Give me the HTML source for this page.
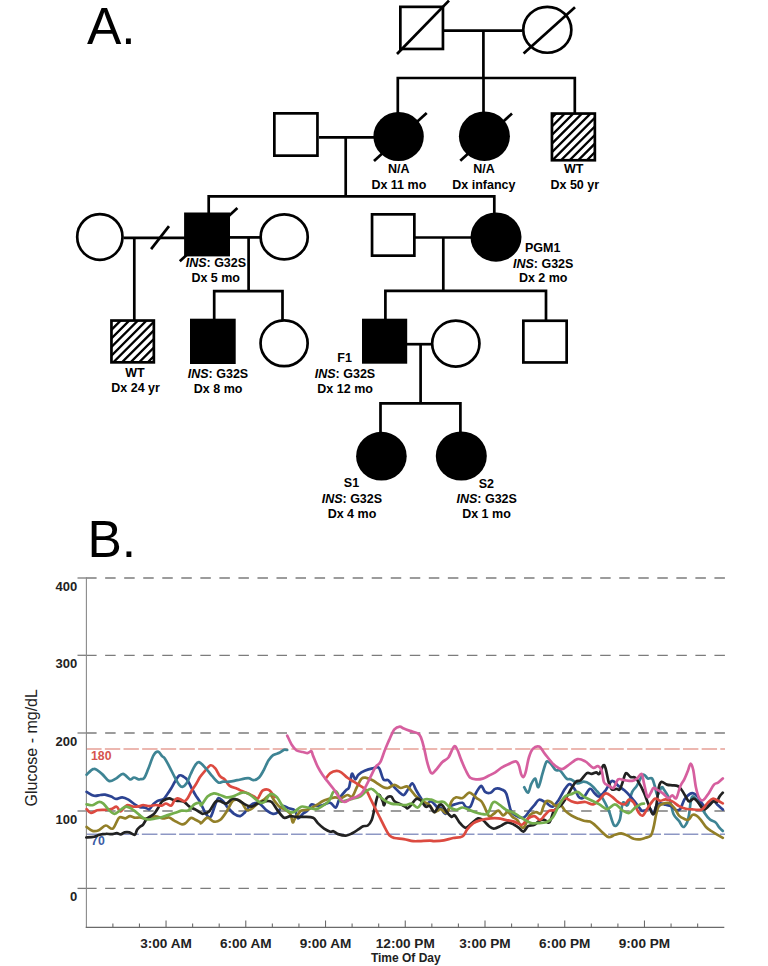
<!DOCTYPE html>
<html><head><meta charset="utf-8"><title>Figure</title>
<style>
html,body{margin:0;padding:0;background:#fff;}
body{width:768px;height:966px;overflow:hidden;}
svg{display:block;font-family:"Liberation Sans",sans-serif;}
</style></head>
<body>
<svg width="768" height="966" viewBox="0 0 768 966">
<rect width="768" height="966" fill="#fff"/>
<line x1="444" y1="30.6" x2="522" y2="30.6" stroke="#000" stroke-width="2.7"/>
<line x1="483.4" y1="30.6" x2="483.4" y2="78" stroke="#000" stroke-width="2.7"/>
<path d="M397.8 112L397.8 78L574.8 78L574.8 112" stroke="#000" stroke-width="2.7" fill="none" stroke-linejoin="miter" stroke-linecap="square"/>
<line x1="483.5" y1="78" x2="483.5" y2="112" stroke="#000" stroke-width="2.7"/>
<line x1="319" y1="137.4" x2="374" y2="137.4" stroke="#000" stroke-width="2.7"/>
<line x1="345.7" y1="137.4" x2="345.7" y2="196.3" stroke="#000" stroke-width="2.7"/>
<path d="M208.7 213L208.7 196.3L494.3 196.3L494.3 213" stroke="#000" stroke-width="2.7" fill="none" stroke-linejoin="miter" stroke-linecap="square"/>
<line x1="123.5" y1="237.8" x2="185" y2="237.8" stroke="#000" stroke-width="2.7"/>
<line x1="151.1" y1="249.2" x2="169" y2="226.1" stroke="#000" stroke-width="2.7"/>
<line x1="134.3" y1="237.8" x2="134.3" y2="320" stroke="#000" stroke-width="2.7"/>
<line x1="229.5" y1="237.4" x2="260" y2="237.4" stroke="#000" stroke-width="2.7"/>
<line x1="248.6" y1="237.4" x2="248.6" y2="291.2" stroke="#000" stroke-width="2.7"/>
<path d="M214.2 319L214.2 291.2L282.5 291.2L282.5 320" stroke="#000" stroke-width="2.7" fill="none" stroke-linejoin="miter" stroke-linecap="square"/>
<line x1="415" y1="237.5" x2="471" y2="237.5" stroke="#000" stroke-width="2.7"/>
<line x1="443.3" y1="237.5" x2="443.3" y2="290.8" stroke="#000" stroke-width="2.7"/>
<path d="M385.4 319L385.4 290.8L546 290.8L546 320" stroke="#000" stroke-width="2.7" fill="none" stroke-linejoin="miter" stroke-linecap="square"/>
<line x1="407" y1="344.2" x2="431.5" y2="344.2" stroke="#000" stroke-width="2.7"/>
<line x1="420.6" y1="344.2" x2="420.6" y2="403.4" stroke="#000" stroke-width="2.7"/>
<path d="M380.5 432L380.5 403.4L460.4 403.4L460.4 432" stroke="#000" stroke-width="2.7" fill="none" stroke-linejoin="miter" stroke-linecap="square"/>
<rect x="400.35" y="6.85" width="42.60" height="42.10" fill="#fff" stroke="#000" stroke-width="2.7"/>
<line x1="397" y1="54" x2="449" y2="0.6" stroke="#000" stroke-width="2.7"/>
<ellipse cx="547.3" cy="29.8" rx="24.05" ry="22.95" fill="#fff" stroke="#000" stroke-width="2.7"/>
<line x1="523.6" y1="53.4" x2="575" y2="7.2" stroke="#000" stroke-width="2.7"/>
<rect x="274.35" y="113.35" width="43.10" height="42.30" fill="#fff" stroke="#000" stroke-width="2.7"/>
<line x1="374" y1="161" x2="426.7" y2="113" stroke="#000" stroke-width="2.7"/>
<ellipse cx="398.6" cy="136.5" rx="25.2" ry="24.5" fill="#000"/>
<line x1="460.3" y1="160.7" x2="512" y2="113.6" stroke="#000" stroke-width="2.7"/>
<ellipse cx="484.4" cy="136.2" rx="25.5" ry="24.8" fill="#000"/>
<rect x="551.95" y="113.55" width="42.90" height="46.70" fill="#fff" stroke="#000" stroke-width="2.7"/>
<clipPath id="c29"><rect x="551.95" y="113.55" width="42.90" height="46.70"/></clipPath>
<path clip-path="url(#c29)" d="M485.90 166.60L545.30 107.20M494.50 166.60L553.90 107.20M503.10 166.60L562.50 107.20M511.70 166.60L571.10 107.20M520.30 166.60L579.70 107.20M528.90 166.60L588.30 107.20M537.50 166.60L596.90 107.20M546.10 166.60L605.50 107.20M554.70 166.60L614.10 107.20M563.30 166.60L622.70 107.20M571.90 166.60L631.30 107.20M580.50 166.60L639.90 107.20M589.10 166.60L648.50 107.20" stroke="#000" stroke-width="2.3" fill="none"/>
<ellipse cx="99.85" cy="236.95" rx="22.65" ry="22.85" fill="#fff" stroke="#000" stroke-width="2.7"/>
<line x1="179.8" y1="261.3" x2="237.4" y2="208" stroke="#000" stroke-width="2.7"/>
<rect x="184.10" y="212.50" width="45.90" height="43.90" fill="#000"/>
<ellipse cx="284.2" cy="236.9" rx="23.55" ry="22.55" fill="#fff" stroke="#000" stroke-width="2.7"/>
<rect x="372.05" y="214.35" width="42.30" height="41.30" fill="#fff" stroke="#000" stroke-width="2.7"/>
<ellipse cx="496" cy="237.1" rx="25.5" ry="24.6" fill="#000"/>
<rect x="111.45" y="320.55" width="42.40" height="41.80" fill="#fff" stroke="#000" stroke-width="2.7"/>
<clipPath id="c38"><rect x="111.45" y="320.55" width="42.40" height="41.80"/></clipPath>
<path clip-path="url(#c38)" d="M55.35 368.70L109.85 314.20M63.95 368.70L118.45 314.20M72.55 368.70L127.05 314.20M81.15 368.70L135.65 314.20M89.75 368.70L144.25 314.20M98.35 368.70L152.85 314.20M106.95 368.70L161.45 314.20M115.55 368.70L170.05 314.20M124.15 368.70L178.65 314.20M132.75 368.70L187.25 314.20M141.35 368.70L195.85 314.20M149.95 368.70L204.45 314.20" stroke="#000" stroke-width="2.3" fill="none"/>
<rect x="190.00" y="318.70" width="45.70" height="45.30" fill="#000"/>
<ellipse cx="284.1" cy="343.3" rx="23.55" ry="22.85" fill="#fff" stroke="#000" stroke-width="2.7"/>
<rect x="362.00" y="318.70" width="45.20" height="45.00" fill="#000"/>
<ellipse cx="455.8" cy="343.6" rx="23.65" ry="22.95" fill="#fff" stroke="#000" stroke-width="2.7"/>
<rect x="523.35" y="320.75" width="43.30" height="41.70" fill="#fff" stroke="#000" stroke-width="2.7"/>
<ellipse cx="381.4" cy="456.2" rx="25.3" ry="24.4" fill="#000"/>
<ellipse cx="461.3" cy="456.0" rx="25.5" ry="24.6" fill="#000"/>
<text x="398.85" y="173.3" font-size="12.5" font-weight="bold" text-anchor="middle" fill="#000" >N/A</text>
<text x="398.85" y="188.8" font-size="12.5" font-weight="bold" text-anchor="middle" fill="#000" >Dx 11 mo</text>
<text x="484" y="172.8" font-size="12.5" font-weight="bold" text-anchor="middle" fill="#000" >N/A</text>
<text x="483.9" y="188.7" font-size="12.5" font-weight="bold" text-anchor="middle" fill="#000" >Dx infancy</text>
<text x="573.6" y="173.0" font-size="12.5" font-weight="bold" text-anchor="middle" fill="#000" >WT</text>
<text x="574.8" y="188.9" font-size="12.5" font-weight="bold" text-anchor="middle" fill="#000" >Dx 50 yr</text>
<text x="215.9" y="266.6" font-size="12.5" font-weight="bold" text-anchor="middle" fill="#000" ><tspan font-style="italic">INS</tspan>: G32S</text>
<text x="215.7" y="282.2" font-size="12.5" font-weight="bold" text-anchor="middle" fill="#000" >Dx 5 mo</text>
<text x="542.7" y="251.5" font-size="12.5" font-weight="bold" text-anchor="middle" fill="#000" >PGM1</text>
<text x="543.2" y="267.5" font-size="12.5" font-weight="bold" text-anchor="middle" fill="#000" ><tspan font-style="italic">INS</tspan>: G32S</text>
<text x="543.2" y="282.2" font-size="12.5" font-weight="bold" text-anchor="middle" fill="#000" >Dx 2 mo</text>
<text x="135.0" y="376.5" font-size="12.5" font-weight="bold" text-anchor="middle" fill="#000" >WT</text>
<text x="135.6" y="392.3" font-size="12.5" font-weight="bold" text-anchor="middle" fill="#000" >Dx 24 yr</text>
<text x="218" y="378" font-size="12.5" font-weight="bold" text-anchor="middle" fill="#000" ><tspan font-style="italic">INS</tspan>: G32S</text>
<text x="218.1" y="392.9" font-size="12.5" font-weight="bold" text-anchor="middle" fill="#000" >Dx 8 mo</text>
<text x="344.65" y="361.9" font-size="12.5" font-weight="bold" text-anchor="middle" fill="#000" >F1</text>
<text x="345" y="378" font-size="12.5" font-weight="bold" text-anchor="middle" fill="#000" ><tspan font-style="italic">INS</tspan>: G32S</text>
<text x="345.1" y="392.9" font-size="12.5" font-weight="bold" text-anchor="middle" fill="#000" >Dx 12 mo</text>
<text x="351.5" y="487.1" font-size="12.5" font-weight="bold" text-anchor="middle" fill="#000" >S1</text>
<text x="351.9" y="502.8" font-size="12.5" font-weight="bold" text-anchor="middle" fill="#000" ><tspan font-style="italic">INS</tspan>: G32S</text>
<text x="352" y="518.3" font-size="12.5" font-weight="bold" text-anchor="middle" fill="#000" >Dx 4 mo</text>
<text x="486.3" y="487.7" font-size="12.5" font-weight="bold" text-anchor="middle" fill="#000" >S2</text>
<text x="486.7" y="502.5" font-size="12.5" font-weight="bold" text-anchor="middle" fill="#000" ><tspan font-style="italic">INS</tspan>: G32S</text>
<text x="486.5" y="518.1" font-size="12.5" font-weight="bold" text-anchor="middle" fill="#000" >Dx 1 mo</text>
<text x="86.9" y="44.1" font-size="51.5" font-weight="normal" text-anchor="start" fill="#000" >A.</text>
<text x="87.5" y="557.1" font-size="51.5" font-weight="normal" text-anchor="start" fill="#000" >B.</text>
<line x1="77.5" y1="578.0" x2="86.5" y2="578.0" stroke="#7c7c7c" stroke-width="1.3"/>
<line x1="86.1" y1="578.0" x2="725" y2="578.0" stroke="#7c7c7c" stroke-width="1.3" stroke-dasharray="10.5 8.54"/>
<line x1="77.5" y1="655.3" x2="86.5" y2="655.3" stroke="#7c7c7c" stroke-width="1.3"/>
<line x1="86.1" y1="655.3" x2="725" y2="655.3" stroke="#7c7c7c" stroke-width="1.3" stroke-dasharray="10.5 8.54"/>
<line x1="77.5" y1="733.0" x2="86.5" y2="733.0" stroke="#7c7c7c" stroke-width="1.3"/>
<line x1="86.1" y1="733.0" x2="725" y2="733.0" stroke="#7c7c7c" stroke-width="1.3" stroke-dasharray="10.5 8.54"/>
<line x1="77.5" y1="811.0" x2="86.5" y2="811.0" stroke="#7c7c7c" stroke-width="1.3"/>
<line x1="86.1" y1="811.0" x2="725" y2="811.0" stroke="#7c7c7c" stroke-width="1.3" stroke-dasharray="10.5 8.54"/>
<line x1="77.5" y1="888.4" x2="86.5" y2="888.4" stroke="#7c7c7c" stroke-width="1.3"/>
<line x1="86.1" y1="888.4" x2="725" y2="888.4" stroke="#7c7c7c" stroke-width="1.3" stroke-dasharray="10.5 8.54"/>
<line x1="86.2" y1="749" x2="725" y2="749" stroke="#e6a097" stroke-width="1.6" stroke-dasharray="15.4 3.25"/>
<line x1="86.2" y1="834.3" x2="725" y2="834.3" stroke="#8d97c4" stroke-width="1.6" stroke-dasharray="15.6 3.05" stroke-dashoffset="0.3"/>
<line x1="86.4" y1="577.6" x2="86.4" y2="927.6" stroke="#8a8a8a" stroke-width="1.1"/>
<line x1="85.7" y1="927.4" x2="724.3" y2="927.4" stroke="#6a6a6a" stroke-width="1.3"/>
<line x1="112.88" y1="923.5" x2="112.88" y2="927.4" stroke="#6a6a6a" stroke-width="1.1"/>
<line x1="139.46" y1="923.5" x2="139.46" y2="927.4" stroke="#6a6a6a" stroke-width="1.1"/>
<line x1="166.04" y1="920.5" x2="166.04" y2="927.4" stroke="#6a6a6a" stroke-width="1.1"/>
<line x1="192.62" y1="923.5" x2="192.62" y2="927.4" stroke="#6a6a6a" stroke-width="1.1"/>
<line x1="219.20" y1="923.5" x2="219.20" y2="927.4" stroke="#6a6a6a" stroke-width="1.1"/>
<line x1="245.78" y1="920.5" x2="245.78" y2="927.4" stroke="#6a6a6a" stroke-width="1.1"/>
<line x1="272.36" y1="923.5" x2="272.36" y2="927.4" stroke="#6a6a6a" stroke-width="1.1"/>
<line x1="298.94" y1="923.5" x2="298.94" y2="927.4" stroke="#6a6a6a" stroke-width="1.1"/>
<line x1="325.52" y1="920.5" x2="325.52" y2="927.4" stroke="#6a6a6a" stroke-width="1.1"/>
<line x1="352.10" y1="923.5" x2="352.10" y2="927.4" stroke="#6a6a6a" stroke-width="1.1"/>
<line x1="378.68" y1="923.5" x2="378.68" y2="927.4" stroke="#6a6a6a" stroke-width="1.1"/>
<line x1="405.26" y1="920.5" x2="405.26" y2="927.4" stroke="#6a6a6a" stroke-width="1.1"/>
<line x1="431.84" y1="923.5" x2="431.84" y2="927.4" stroke="#6a6a6a" stroke-width="1.1"/>
<line x1="458.42" y1="923.5" x2="458.42" y2="927.4" stroke="#6a6a6a" stroke-width="1.1"/>
<line x1="485.00" y1="920.5" x2="485.00" y2="927.4" stroke="#6a6a6a" stroke-width="1.1"/>
<line x1="511.58" y1="923.5" x2="511.58" y2="927.4" stroke="#6a6a6a" stroke-width="1.1"/>
<line x1="538.16" y1="923.5" x2="538.16" y2="927.4" stroke="#6a6a6a" stroke-width="1.1"/>
<line x1="564.74" y1="920.5" x2="564.74" y2="927.4" stroke="#6a6a6a" stroke-width="1.1"/>
<line x1="591.32" y1="923.5" x2="591.32" y2="927.4" stroke="#6a6a6a" stroke-width="1.1"/>
<line x1="617.90" y1="923.5" x2="617.90" y2="927.4" stroke="#6a6a6a" stroke-width="1.1"/>
<line x1="644.48" y1="920.5" x2="644.48" y2="927.4" stroke="#6a6a6a" stroke-width="1.1"/>
<line x1="671.06" y1="923.5" x2="671.06" y2="927.4" stroke="#6a6a6a" stroke-width="1.1"/>
<line x1="697.64" y1="923.5" x2="697.64" y2="927.4" stroke="#6a6a6a" stroke-width="1.1"/>
<text x="77.3" y="590.5" font-size="13" font-weight="bold" text-anchor="end" fill="#222">400</text>
<text x="77.3" y="667.9" font-size="13" font-weight="bold" text-anchor="end" fill="#222">300</text>
<text x="77.3" y="745.5" font-size="13" font-weight="bold" text-anchor="end" fill="#222">200</text>
<text x="77.3" y="823.5" font-size="13" font-weight="bold" text-anchor="end" fill="#222">100</text>
<text x="77.3" y="900.8" font-size="13" font-weight="bold" text-anchor="end" fill="#222">0</text>
<text x="91" y="760.0" font-size="12.3" font-weight="bold" fill="#d6554e">180</text>
<text x="91.1" y="845.0" font-size="12.3" font-weight="bold" fill="#3b5ca5">70</text>
<text x="166.04" y="947.5" font-size="13.6" font-weight="bold" text-anchor="middle" fill="#222">3:00 AM</text>
<text x="245.78" y="947.5" font-size="13.6" font-weight="bold" text-anchor="middle" fill="#222">6:00 AM</text>
<text x="325.52" y="947.5" font-size="13.6" font-weight="bold" text-anchor="middle" fill="#222">9:00 AM</text>
<text x="405.26" y="947.5" font-size="13.6" font-weight="bold" text-anchor="middle" fill="#222">12:00 PM</text>
<text x="485.00" y="947.5" font-size="13.6" font-weight="bold" text-anchor="middle" fill="#222">3:00 PM</text>
<text x="564.74" y="947.5" font-size="13.6" font-weight="bold" text-anchor="middle" fill="#222">6:00 PM</text>
<text x="644.48" y="947.5" font-size="13.6" font-weight="bold" text-anchor="middle" fill="#222">9:00 PM</text>
<text x="405.8" y="961.8" font-size="12" font-weight="bold" text-anchor="middle" fill="#222">Time Of Day</text>
<text transform="translate(37.3 747.8) rotate(-90)" font-size="16" text-anchor="middle" fill="#222">Glucose - mg/dL</text>
<path d="M524.2 787.2C524.9 788.1 526.9 793.2 528.1 792.7C529.3 792.2 530.1 786.5 531.2 784.1C532.4 781.8 534.0 778.1 535.2 778.6C536.4 779.1 537.1 787.9 538.3 787.2C539.5 786.6 541.1 778.4 542.2 774.7C543.3 771.1 544.2 767.5 545.0 765.3C545.8 763.1 546.0 761.7 547.0 761.4C548.0 761.1 549.5 762.3 550.9 763.8C552.3 765.2 554.0 768.8 555.6 770.0C557.2 771.2 558.5 769.4 560.3 770.8C562.1 772.2 564.8 777.2 566.6 778.6C568.4 780.0 569.4 778.6 571.2 779.4C573.1 780.2 575.4 782.9 577.5 783.3C579.6 783.7 581.7 781.6 583.8 781.7C585.8 781.8 587.9 782.7 590.0 784.1C592.1 785.5 594.2 788.0 596.2 790.3C598.3 792.6 600.4 794.7 602.5 798.1C604.6 801.5 606.8 806.0 608.8 810.6C610.7 815.2 612.4 823.9 614.2 825.5C616.0 827.1 618.3 823.8 619.7 820.0C621.1 816.2 621.5 805.3 622.8 802.8C624.1 800.3 625.9 807.0 627.5 805.2C629.1 803.4 630.6 795.2 632.2 791.9C633.8 788.6 635.1 788.5 636.9 785.6C638.7 782.7 641.3 775.9 643.1 774.7C644.9 773.5 646.3 777.9 647.8 778.5C649.3 779.1 650.9 777.2 652.1 778.5C653.3 779.8 653.9 783.2 654.8 786.0C655.7 788.8 656.4 795.2 657.5 795.4C658.6 795.6 660.4 788.2 661.5 787.3C662.6 786.4 662.9 788.0 664.2 790.0C665.6 792.0 668.0 795.4 669.6 799.4C671.2 803.4 672.0 810.6 673.6 814.2C675.2 817.8 677.4 818.8 679.0 820.9C680.6 823.0 681.8 826.8 683.1 827.0C684.5 827.2 686.1 824.4 687.1 822.3C688.1 820.2 688.4 818.0 689.1 814.2C689.8 810.4 690.3 802.3 691.1 799.4C691.9 796.5 692.4 796.0 693.8 796.7C695.1 797.4 697.4 800.7 699.2 803.4C701.0 806.1 702.8 810.2 704.6 812.9C706.4 815.6 708.2 818.0 710.0 819.6C711.8 821.2 713.8 820.9 715.4 822.3C717.0 823.6 718.2 826.2 719.4 827.7C720.6 829.2 722.2 830.5 722.8 831.0" stroke="#3e8494" stroke-width="2.7" fill="none" stroke-linejoin="round" stroke-linecap="round"/>
<path d="M86.6 791.9C87.8 792.5 91.8 795.3 94.1 795.8C96.4 796.3 98.5 795.2 100.3 795.0C102.1 794.8 103.2 794.4 105.0 794.7C106.8 795.0 109.4 795.9 111.2 796.6C113.1 797.3 114.1 798.8 115.9 798.9C117.7 799.0 120.1 797.2 122.2 797.3C124.3 797.4 126.3 798.5 128.4 799.7C130.5 800.9 132.8 803.2 134.7 804.4C136.6 805.6 138.2 806.6 140.0 807.1C141.8 807.6 143.6 807.2 145.2 807.6C146.8 808.0 147.9 809.8 149.3 809.2C150.7 808.6 152.1 805.4 153.5 804.0C154.9 802.6 155.9 801.8 157.6 800.9C159.3 800.0 162.2 799.8 163.8 798.8C165.4 797.8 165.7 796.4 166.9 794.7C168.1 793.0 169.7 790.8 171.1 788.5C172.5 786.2 173.8 783.4 175.2 781.2C176.6 779.0 177.9 776.3 179.3 775.5C180.7 774.7 182.1 775.8 183.5 776.6C184.9 777.4 186.2 778.2 187.6 780.2C189.0 782.2 190.4 785.9 191.8 788.5C193.2 791.1 194.5 793.5 195.9 795.7C197.3 797.9 198.3 798.9 200.0 801.9C201.7 804.9 204.1 811.2 205.9 813.8C207.7 816.2 209.0 818.5 210.6 816.9C212.2 815.3 214.0 807.5 215.3 804.4C216.6 801.3 217.1 798.6 218.4 798.1C219.7 797.6 221.5 799.7 223.1 801.2C224.7 802.8 226.0 805.4 227.8 807.5C229.6 809.6 232.0 812.3 234.1 813.8C236.2 815.2 238.5 816.4 240.3 816.1C242.1 815.8 243.4 813.9 245.0 812.2C246.6 810.5 247.9 807.5 249.7 805.9C251.5 804.3 254.1 803.0 255.9 802.8C257.7 802.5 258.8 803.1 260.6 804.4C262.4 805.7 264.8 809.0 266.9 810.6C269.0 812.2 271.3 813.5 273.1 813.8C274.9 814.0 276.2 813.5 277.8 812.2C279.4 810.9 280.7 806.5 282.5 805.9C284.3 805.2 286.7 807.5 288.8 808.3C290.8 809.1 293.4 808.9 295.0 810.6C296.6 812.3 296.8 817.9 298.1 818.4C299.4 818.9 301.2 815.0 302.8 813.8C304.4 812.5 306.1 812.2 307.5 810.6C308.9 809.0 309.9 805.2 311.4 804.4C312.9 803.6 314.4 805.8 316.2 805.9C318.1 806.0 320.2 805.7 322.5 805.2C324.8 804.7 328.1 802.4 330.3 802.8C332.5 803.2 334.2 808.3 335.8 807.5C337.4 806.7 338.0 801.0 339.7 798.1C341.4 795.2 344.3 792.1 345.9 790.3C347.5 788.5 348.1 789.9 349.1 787.2C350.1 784.5 350.9 775.2 351.9 773.9C352.9 772.6 354.2 779.3 355.3 779.4C356.4 779.5 356.8 776.1 358.4 774.7C360.0 773.3 362.3 771.8 364.7 770.8C367.1 769.8 370.2 768.9 372.5 768.4C374.8 767.9 376.9 765.9 378.8 767.7C380.6 769.5 381.8 777.3 383.4 779.4C385.0 781.5 386.5 779.2 388.1 780.2C389.7 781.2 391.0 783.7 392.8 785.6C394.6 787.5 397.2 790.3 399.0 791.9C400.8 793.5 402.2 795.5 403.8 795.0C405.3 794.5 407.0 790.7 408.4 788.8C409.8 786.8 411.0 783.0 412.3 783.3C413.6 783.6 414.8 787.8 416.2 790.3C417.7 792.8 419.3 795.8 420.9 798.1C422.5 800.5 423.9 803.9 425.6 804.4C427.3 804.9 429.3 800.7 431.2 801.2C433.2 801.8 435.9 806.5 437.5 807.5C439.1 808.5 439.3 806.5 440.6 807.5C441.9 808.5 443.7 813.9 445.3 813.8C446.9 813.6 448.4 808.3 450.0 806.7C451.6 805.1 452.6 805.0 454.7 804.4C456.8 803.8 460.7 802.4 462.5 802.8C464.3 803.2 464.3 806.1 465.6 806.7C466.9 807.4 468.7 808.7 470.3 806.7C471.9 804.8 473.4 798.2 475.0 795.0C476.6 791.8 478.5 788.6 479.7 787.2C480.9 785.8 481.1 785.6 482.0 786.4C482.9 787.2 483.8 790.8 485.2 791.9C486.6 793.0 488.9 793.2 490.6 792.7C492.3 792.2 493.5 789.3 495.3 788.8C497.1 788.2 499.8 788.7 501.6 789.5C503.4 790.3 504.7 789.9 506.2 793.4C507.8 796.9 509.3 807.0 510.9 810.6C512.5 814.2 513.5 814.1 515.6 815.3C517.7 816.5 521.0 818.5 523.4 817.7C525.8 816.9 527.9 812.7 529.7 810.6C531.5 808.5 532.8 807.0 534.4 805.2C536.0 803.4 537.1 800.1 539.1 799.7C541.1 799.3 544.0 801.6 546.2 802.8C548.5 804.0 550.4 807.2 552.5 806.7C554.6 806.2 556.7 802.7 558.8 799.7C560.8 796.7 563.2 791.4 565.0 788.8C566.8 786.1 568.1 784.1 569.7 784.1C571.3 784.1 572.8 786.5 574.4 788.8C576.0 791.0 577.5 795.9 579.1 797.3C580.7 798.7 581.9 798.7 583.8 797.3C585.6 795.9 588.2 789.4 590.0 788.8C591.8 788.1 593.1 792.1 594.7 793.4C596.3 794.7 597.6 797.1 599.4 796.6C601.2 796.1 603.5 792.9 605.6 790.3C607.7 787.7 609.8 781.7 611.9 780.9C614.0 780.1 616.0 784.0 618.1 785.6C620.2 787.2 622.3 788.5 624.4 790.3C626.5 792.1 628.5 794.2 630.6 796.6C632.7 799.0 635.1 802.1 636.9 804.4C638.7 806.7 640.2 809.6 641.6 810.6C643.0 811.6 644.0 810.5 645.4 810.2C646.8 809.9 648.8 808.1 650.1 808.8C651.5 809.5 652.5 814.7 653.5 814.2C654.5 813.8 655.1 807.9 656.2 806.1C657.3 804.3 658.6 803.6 660.2 803.4C661.8 803.2 663.8 804.3 665.6 804.8C667.4 805.2 669.2 805.2 671.0 806.1C672.8 807.0 674.7 809.8 676.3 810.2C677.9 810.7 679.0 810.6 680.4 808.8C681.8 807.0 682.8 801.9 684.4 799.4C686.0 796.9 688.2 795.0 689.8 794.0C691.4 793.0 692.4 792.9 693.8 793.4C695.1 793.9 696.5 795.0 697.9 796.7C699.2 798.4 700.5 801.6 701.9 803.4C703.2 805.2 704.6 807.5 706.0 807.5C707.4 807.5 708.7 804.5 710.0 803.4C711.3 802.3 712.8 800.6 714.0 800.8C715.2 801.0 715.9 803.3 717.4 804.8C718.9 806.2 721.9 808.7 722.8 809.5" stroke="#2c4392" stroke-width="2.7" fill="none" stroke-linejoin="round" stroke-linecap="round"/>
<path d="M86.6 827.0C87.6 827.6 90.5 830.4 92.5 830.9C94.5 831.4 96.5 831.1 98.8 830.2C101.0 829.3 103.5 825.8 105.8 825.5C108.1 825.2 110.6 829.9 112.8 828.6C115.0 827.3 117.0 819.4 119.1 817.7C121.2 816.0 123.5 818.7 125.3 818.4C127.1 818.1 128.4 816.2 130.0 816.1C131.6 816.0 133.0 817.5 134.7 817.7C136.4 817.9 138.1 817.4 140.0 817.5C141.9 817.6 143.6 818.7 146.2 818.5C148.8 818.3 152.7 816.4 155.5 816.4C158.3 816.4 160.6 818.3 162.8 818.5C165.1 818.7 167.1 817.1 169.0 817.5C170.9 817.9 172.1 819.5 174.2 820.6C176.3 821.7 179.5 823.8 181.4 824.2C183.3 824.6 183.9 824.2 185.5 823.2C187.1 822.2 189.1 818.6 190.7 818.0C192.3 817.4 193.3 818.8 194.9 819.5C196.5 820.2 198.9 821.5 200.0 822.1C201.1 822.7 200.0 823.8 201.2 823.1C202.5 822.4 205.4 818.0 207.5 817.7C209.6 817.5 211.7 821.2 213.8 821.6C215.8 822.0 217.9 821.6 220.0 820.0C222.1 818.4 224.2 815.3 226.2 812.2C228.3 809.1 230.7 803.3 232.5 801.2C234.3 799.2 235.6 799.4 237.2 799.7C238.8 800.0 240.3 801.1 241.9 802.8C243.5 804.5 245.0 808.8 246.6 809.8C248.2 810.8 249.4 810.1 251.2 809.1C253.1 808.1 255.4 805.2 257.5 803.6C259.6 802.0 261.7 801.1 263.8 799.7C265.8 798.3 268.2 794.7 270.0 795.0C271.8 795.3 273.1 799.3 274.7 801.2C276.3 803.2 277.6 805.3 279.4 806.7C281.2 808.1 283.8 808.6 285.6 809.8C287.4 811.0 289.1 811.7 290.3 813.8C291.5 815.8 291.9 821.5 292.7 822.3C293.5 823.1 293.6 820.3 295.0 818.4C296.4 816.5 299.2 812.0 301.2 810.6C303.3 809.2 305.0 810.7 307.5 809.8C310.0 808.9 313.8 806.6 316.2 805.2C318.8 803.8 320.4 802.3 322.5 801.2C324.6 800.2 326.7 799.6 328.8 798.9C330.8 798.2 332.9 797.4 335.0 797.3C337.1 797.2 339.2 798.5 341.2 798.1C343.3 797.7 345.7 795.2 347.5 795.0C349.3 794.8 350.6 797.9 352.2 796.6C353.8 795.3 355.3 790.2 356.9 787.2C358.5 784.2 360.0 780.2 361.6 778.6C363.2 777.0 364.4 777.5 366.2 777.8C368.1 778.1 370.7 779.3 372.5 780.2C374.3 781.1 375.4 782.1 377.2 783.3C379.0 784.5 381.6 786.4 383.4 787.2C385.2 788.0 386.3 788.4 388.1 788.0C389.9 787.6 392.3 784.8 394.4 784.8C396.5 784.8 398.5 787.7 400.6 788.0C402.7 788.3 405.1 785.9 406.9 786.4C408.7 786.9 410.0 789.4 411.6 791.1C413.2 792.8 414.4 794.9 416.2 796.6C418.1 798.3 420.3 799.8 422.5 801.2C424.7 802.7 427.7 803.4 429.7 805.2C431.7 807.0 432.6 811.6 434.4 812.2C436.2 812.9 438.5 809.0 440.6 809.1C442.7 809.2 445.1 814.3 446.9 813.0C448.7 811.7 450.0 803.9 451.6 801.2C453.2 798.6 454.4 797.8 456.2 797.3C458.1 796.8 460.4 798.9 462.5 798.1C464.6 797.3 466.9 793.2 468.8 792.7C470.6 792.2 472.1 794.1 473.4 795.0C474.7 795.9 475.3 797.1 476.6 798.1C477.9 799.1 479.9 799.8 481.2 801.2C482.6 802.7 483.1 804.2 484.4 806.7C485.7 809.2 487.5 814.9 489.1 816.1C490.7 817.3 492.2 814.7 493.8 813.8C495.3 812.8 496.8 810.3 498.4 810.6C500.0 810.9 501.5 815.0 503.1 815.3C504.7 815.6 506.2 811.9 507.8 812.2C509.4 812.5 510.9 815.6 512.5 816.9C514.1 818.2 515.4 818.2 517.2 820.0C519.0 821.8 521.3 828.6 523.4 827.8C525.5 827.0 527.6 817.9 529.7 815.3C531.8 812.7 534.1 812.5 535.9 812.2C537.7 811.9 539.4 814.5 540.6 813.8C541.8 813.0 542.2 809.6 543.1 807.5C544.0 805.4 545.0 802.2 546.2 801.2C547.5 800.3 549.3 801.2 550.9 802.0C552.5 802.8 554.0 805.5 555.6 805.9C557.2 806.3 558.7 803.6 560.3 804.4C561.9 805.2 563.2 808.8 565.0 810.6C566.8 812.4 569.2 814.0 571.2 815.3C573.3 816.6 575.4 817.5 577.5 818.4C579.6 819.3 581.7 820.3 583.8 820.8C585.8 821.3 587.9 820.7 590.0 821.6C592.1 822.5 594.2 824.4 596.2 826.2C598.3 828.1 600.4 830.7 602.5 832.5C604.6 834.3 606.7 836.8 608.8 837.2C610.8 837.6 612.9 835.4 615.0 834.8C617.1 834.1 619.2 833.2 621.2 833.3C623.3 833.4 625.4 834.7 627.5 835.6C629.6 836.5 631.7 838.1 633.8 838.8C635.8 839.4 638.1 839.5 640.0 839.3C641.9 839.1 643.6 838.4 645.4 837.8C647.2 837.2 649.4 837.4 650.8 835.7C652.1 834.0 652.6 831.3 653.5 827.7C654.4 824.1 655.3 817.8 656.2 814.2C657.1 810.6 657.5 807.9 658.8 806.1C660.1 804.3 662.4 803.9 664.2 803.4C666.0 802.9 667.8 802.5 669.6 803.4C671.4 804.3 673.4 806.8 675.0 808.8C676.6 810.8 677.4 813.9 679.0 815.6C680.6 817.3 682.8 818.2 684.4 818.9C686.0 819.6 687.1 820.3 688.5 819.6C689.9 818.9 691.2 815.6 692.5 814.9C693.8 814.2 695.1 814.8 696.5 815.6C697.9 816.4 699.0 817.7 700.6 819.6C702.2 821.5 704.2 825.1 706.0 827.0C707.8 828.9 709.5 829.8 711.3 831.0C713.1 832.2 714.8 833.3 716.7 834.4C718.6 835.5 721.8 837.2 722.8 837.8" stroke="#927f28" stroke-width="2.7" fill="none" stroke-linejoin="round" stroke-linecap="round"/>
<path d="M86.3 837.5C87.6 837.4 92.0 837.2 94.2 836.7C96.4 836.2 97.6 835.3 99.6 834.8C101.5 834.3 104.0 833.9 105.9 833.8C107.9 833.6 109.5 834.3 111.3 834.2C113.1 834.1 115.2 833.2 116.8 833.2C118.4 833.2 119.4 834.5 120.7 834.4C122.0 834.3 123.2 832.7 124.6 832.4C126.0 832.1 127.6 832.0 129.3 832.4C131.0 832.8 133.5 835.2 134.8 834.8C136.1 834.3 136.2 831.0 137.1 829.7C138.0 828.4 139.0 827.6 140.0 826.8C141.0 826.0 142.1 825.9 143.1 824.7C144.1 823.5 145.0 820.9 146.2 819.5C147.4 818.1 149.0 817.4 150.4 816.4C151.8 815.4 153.1 814.8 154.5 813.3C155.9 811.8 157.4 809.0 158.6 807.1C159.8 805.2 160.5 803.2 161.7 801.9C162.9 800.6 164.6 799.9 165.9 799.3C167.2 798.7 168.3 798.2 169.5 798.3C170.7 798.4 171.8 799.5 173.1 799.9C174.4 800.3 175.6 800.6 177.3 800.9C179.0 801.1 181.8 800.7 183.5 801.4C185.2 802.1 186.4 804.0 187.6 805.0C188.8 806.0 189.5 806.9 190.7 807.6C191.9 808.3 193.3 808.4 194.9 809.2C196.5 810.0 198.7 811.5 200.0 812.3C201.3 813.1 201.3 813.9 202.8 813.8C204.3 813.6 207.0 813.4 209.1 811.4C211.2 809.4 213.5 803.7 215.3 802.0C217.1 800.3 218.2 801.0 220.0 801.2C221.8 801.5 224.2 804.0 226.2 803.6C228.3 803.2 230.4 799.4 232.5 798.9C234.6 798.4 236.7 799.6 238.8 800.5C240.8 801.4 242.9 803.4 245.0 804.4C247.1 805.4 249.2 806.8 251.2 806.7C253.3 806.6 255.2 804.5 257.5 803.6C259.8 802.7 262.9 801.5 265.3 801.2C267.7 801.0 269.5 800.4 271.6 802.0C273.7 803.6 275.7 808.0 277.8 810.6C279.9 813.2 282.0 816.8 284.1 817.7C286.2 818.6 288.2 816.2 290.3 816.1C292.4 816.0 294.2 816.8 296.6 816.9C299.0 817.0 301.6 816.8 304.4 816.9C307.1 817.0 310.9 816.7 313.1 817.7C315.3 818.7 316.0 821.3 317.8 823.1C319.6 824.9 322.0 827.2 324.1 828.6C326.2 830.0 328.8 831.3 330.3 831.7C331.9 832.1 332.1 830.9 333.4 831.2C334.7 831.6 336.0 833.4 338.1 834.1C340.2 834.8 343.5 835.7 345.9 835.6C348.2 835.5 350.1 834.3 352.2 833.3C354.3 832.3 356.6 830.6 358.4 829.4C360.2 828.2 361.5 826.9 363.1 826.2C364.7 825.6 366.4 826.5 367.8 825.5C369.2 824.5 370.6 822.5 371.7 820.0C372.8 817.5 373.2 814.4 374.1 810.6C375.0 806.8 376.3 799.9 377.2 797.3C378.1 794.7 378.6 794.3 379.5 795.0C380.4 795.7 381.9 799.5 382.7 801.2C383.5 803.0 383.5 805.7 384.2 805.2C384.9 804.7 385.4 799.5 386.6 798.1C387.8 796.7 389.9 796.1 391.2 796.6C392.6 797.1 392.8 800.0 394.4 801.2C396.0 802.5 398.8 803.5 400.6 804.4C402.4 805.3 404.1 806.1 405.3 806.7C406.5 807.4 406.6 808.7 407.7 808.3C408.8 807.9 410.2 806.0 411.6 804.4C413.0 802.8 414.7 799.5 416.2 798.9C417.8 798.2 419.3 799.2 420.9 800.5C422.5 801.8 424.1 805.8 425.6 806.7C427.1 807.6 428.2 805.0 429.7 805.9C431.2 806.8 432.8 812.3 434.4 812.2C436.0 812.1 437.8 806.4 439.1 805.2C440.4 804.0 440.9 804.0 442.2 805.2C443.5 806.4 445.3 810.2 446.9 812.2C448.5 814.2 450.3 816.4 451.6 816.9C452.9 817.4 453.4 814.4 454.7 815.3C456.0 816.2 457.6 820.2 459.4 822.3C461.2 824.4 463.5 827.7 465.6 827.8C467.7 827.9 469.8 824.7 471.9 823.1C474.0 821.5 476.3 818.9 478.1 818.4C479.9 817.9 481.0 818.7 482.8 820.0C484.6 821.3 487.3 824.8 489.1 826.2C490.9 827.7 491.7 828.7 493.8 828.6C495.8 828.5 499.3 826.5 501.6 825.5C503.9 824.5 505.7 822.4 507.8 822.3C509.9 822.2 512.3 823.8 514.1 824.7C515.9 825.6 517.2 826.6 518.8 827.8C520.3 829.0 521.8 832.0 523.4 831.7C525.0 831.4 526.3 827.4 528.1 826.2C529.9 825.1 532.3 825.7 534.4 824.7C536.5 823.7 538.9 820.8 540.6 820.0C542.3 819.2 543.2 819.6 544.7 820.0C546.2 820.4 547.8 823.9 549.4 822.3C551.0 820.7 552.3 813.3 554.1 810.6C555.9 807.9 558.5 807.7 560.3 805.9C562.1 804.1 563.2 802.6 565.0 799.7C566.8 796.8 569.4 791.8 571.2 788.8C573.1 785.8 574.3 783.1 575.9 781.7C577.5 780.3 578.8 781.6 580.6 780.2C582.4 778.8 585.1 774.2 586.9 773.1C588.7 772.0 590.0 774.0 591.6 773.9C593.2 773.8 595.0 772.3 596.2 772.3C597.5 772.3 598.2 775.1 599.4 773.9C600.6 772.7 602.3 766.2 603.3 765.3C604.3 764.4 604.7 765.5 605.6 768.4C606.5 771.3 607.7 779.0 608.8 782.5C609.8 786.0 610.6 788.5 611.9 789.5C613.2 790.5 615.3 788.8 616.6 788.8C617.9 788.8 618.7 790.7 619.7 789.5C620.7 788.3 621.8 784.4 622.8 781.7C623.8 779.0 624.6 773.9 625.9 773.1C627.2 772.3 629.0 776.2 630.6 777.0C632.2 777.8 633.7 776.5 635.3 777.8C636.9 779.1 638.5 782.1 640.0 784.6C641.5 787.1 642.6 789.6 644.0 792.7C645.4 795.8 646.6 799.8 648.1 803.4C649.6 807.0 651.4 813.8 652.8 814.2C654.1 814.7 655.2 810.6 656.2 806.1C657.2 801.6 657.9 791.3 658.8 787.3C659.7 783.3 660.1 782.3 661.5 781.9C662.9 781.5 665.1 784.0 666.9 784.6C668.7 785.2 670.5 785.1 672.3 785.3C674.1 785.5 676.1 785.2 677.7 786.0C679.3 786.8 680.4 788.2 681.7 790.0C683.1 791.8 684.6 794.8 685.8 796.7C687.0 798.6 687.8 801.1 689.1 801.4C690.4 801.7 692.3 798.6 693.8 798.7C695.3 798.8 696.5 800.6 697.9 802.1C699.2 803.6 700.8 806.3 701.9 807.5C703.0 808.7 703.5 809.7 704.6 809.5C705.7 809.3 707.1 807.5 708.6 806.1C710.1 804.8 712.0 802.1 713.4 801.4C714.8 800.7 715.7 802.9 716.7 802.1C717.7 801.3 718.4 798.3 719.4 796.7C720.4 795.1 722.2 793.4 722.8 792.7" stroke="#222222" stroke-width="2.7" fill="none" stroke-linejoin="round" stroke-linecap="round"/>
<path d="M86.6 809.1C87.3 809.8 89.1 812.8 90.9 813.0C92.7 813.2 94.9 810.8 97.2 810.3C99.5 809.8 102.7 810.0 105.0 809.8C107.3 809.6 109.3 809.6 111.2 809.1C113.2 808.6 115.1 806.3 116.7 806.7C118.3 807.1 118.9 811.6 120.6 811.4C122.3 811.1 124.8 806.0 126.9 805.2C129.0 804.4 130.9 806.6 133.1 806.7C135.3 806.9 138.3 806.4 140.0 806.1C141.7 805.8 141.5 805.0 143.1 805.0C144.7 805.0 147.2 806.1 149.3 806.1C151.4 806.1 153.4 805.1 155.5 805.0C157.6 804.9 160.0 805.9 161.7 805.6C163.4 805.4 164.3 803.5 165.9 803.5C167.5 803.5 169.7 806.0 171.1 805.6C172.5 805.2 173.2 802.1 174.2 800.9C175.2 799.7 176.1 798.5 177.3 798.3C178.5 798.1 180.2 799.4 181.4 799.9C182.6 800.4 183.5 801.7 184.5 801.4C185.5 801.1 186.4 800.1 187.6 798.3C188.8 796.5 190.4 792.8 191.8 790.5C193.2 788.2 194.5 786.5 195.9 784.3C197.3 782.1 198.6 779.2 200.0 777.1C201.4 775.0 202.6 773.6 204.4 771.6C206.2 769.6 208.8 765.8 210.6 765.3C212.4 764.8 213.7 766.6 215.3 768.4C216.9 770.2 218.4 774.4 220.0 776.2C221.6 778.1 223.1 777.8 224.7 779.4C226.3 781.0 227.3 784.0 229.4 785.6C231.5 787.2 235.1 787.8 237.2 788.8C239.3 789.7 240.1 790.3 241.9 791.1C243.7 791.9 246.0 792.5 248.1 793.4C250.2 794.3 252.8 795.7 254.4 796.6C256.0 797.5 256.5 799.4 257.5 798.9C258.5 798.4 259.7 794.8 260.6 793.4C261.5 792.0 261.8 790.8 263.1 790.2C264.4 789.6 266.9 789.3 268.3 789.7C269.7 790.1 270.4 791.4 271.5 792.6C272.6 793.8 274.4 796.3 275.0 797.0" stroke="#dc4a40" stroke-width="2.7" fill="none" stroke-linejoin="round" stroke-linecap="round"/>
<path d="M325.7 778.6C326.5 777.7 328.5 774.4 330.3 773.1C332.1 771.8 334.8 770.9 336.6 770.8C338.4 770.7 339.4 771.1 341.2 772.3C343.1 773.5 345.4 776.2 347.5 777.8C349.6 779.4 351.7 780.4 353.8 781.7C355.8 783.0 357.9 784.2 360.0 785.6C362.1 787.0 364.4 787.9 366.2 790.3C368.1 792.6 369.3 796.6 370.9 799.7C372.5 802.8 374.0 806.0 375.6 809.1C377.2 812.2 378.7 815.3 380.3 818.4C381.9 821.5 383.4 824.9 385.0 827.8C386.6 830.7 388.1 833.9 389.7 835.6C391.3 837.3 392.1 837.4 394.4 838.0C396.7 838.6 400.6 838.6 403.8 839.1C406.9 839.6 410.5 840.8 413.1 841.1C415.7 841.4 416.6 841.2 419.4 841.1C422.2 841.0 427.5 840.6 430.0 840.6C432.5 840.6 432.1 841.2 434.4 841.1C436.7 841.0 440.6 840.8 443.8 840.3C446.9 839.8 450.0 838.6 453.1 838.0C456.2 837.4 460.1 837.8 462.5 836.4C464.9 835.0 465.4 831.6 467.2 829.4C469.0 827.2 471.1 824.7 473.4 823.1C475.7 821.5 478.4 820.8 481.2 820.0C484.1 819.2 487.7 818.7 490.6 818.4C493.5 818.1 495.8 818.1 498.4 818.4C501.0 818.7 503.6 819.5 506.2 820.0C508.9 820.5 511.5 820.8 514.1 821.6C516.7 822.4 519.6 825.2 521.9 824.7C524.2 824.2 526.0 819.8 528.1 818.4C530.2 817.0 532.4 815.8 534.4 816.1C536.4 816.4 538.3 820.1 540.0 820.0C541.7 819.9 543.1 816.9 544.7 815.3C546.3 813.7 547.6 811.5 549.4 810.6C551.2 809.7 553.8 811.1 555.6 809.8C557.4 808.5 558.7 804.8 560.3 802.8C561.9 800.8 563.2 798.4 565.0 798.1C566.8 797.8 569.2 800.5 571.2 801.2C573.3 802.0 575.2 802.7 577.5 802.8C579.8 802.9 582.7 801.7 585.3 802.0C587.9 802.3 590.8 804.8 593.1 804.4C595.5 804.0 597.3 801.5 599.4 799.7C601.5 797.9 603.5 793.9 605.6 793.4C607.7 792.9 609.8 795.2 611.9 796.6C614.0 798.0 616.0 800.7 618.1 802.0C620.2 803.3 622.6 804.8 624.4 804.4C626.2 804.0 627.5 800.0 629.1 799.7C630.7 799.4 632.2 800.7 633.8 802.8C635.3 804.9 636.9 810.1 638.4 812.2C639.9 814.3 641.1 816.4 642.7 815.6C644.3 814.8 646.1 810.3 648.1 807.5C650.1 804.7 652.8 799.8 654.8 798.7C656.8 797.6 658.4 800.7 660.2 800.8C662.0 800.9 663.6 799.3 665.6 799.4C667.6 799.5 670.1 800.3 672.3 801.4C674.5 802.5 676.8 804.9 679.0 806.1C681.2 807.3 683.3 808.2 685.8 808.8C688.3 809.4 691.1 809.4 693.8 809.5C696.5 809.6 699.6 810.5 701.9 809.5C704.1 808.5 705.5 805.2 707.3 803.4C709.1 801.6 710.9 799.1 712.7 798.7C714.5 798.3 716.4 800.0 718.1 800.8C719.8 801.6 722.0 803.0 722.8 803.4" stroke="#dc4a40" stroke-width="2.7" fill="none" stroke-linejoin="round" stroke-linecap="round"/>
<path d="M86.6 804.4C87.6 804.5 90.5 805.6 92.5 805.2C94.5 804.8 96.9 802.3 98.8 802.0C100.6 801.7 101.8 802.4 103.4 803.6C105.0 804.8 106.3 807.4 108.1 809.1C109.9 810.8 112.3 813.6 114.4 813.8C116.5 813.9 118.6 811.0 120.6 809.8C122.5 808.6 124.0 806.7 126.1 806.7C128.2 806.7 130.8 808.3 133.1 809.8C135.4 811.2 138.2 813.9 140.0 815.4C141.8 816.9 142.7 817.8 144.1 818.5C145.5 819.2 146.4 819.5 148.3 819.5C150.2 819.5 153.4 818.8 155.5 818.5C157.6 818.2 158.8 818.0 160.7 817.5C162.6 817.0 164.5 816.2 166.9 815.4C169.3 814.6 172.8 813.6 175.2 812.8C177.6 812.0 179.3 811.1 181.4 810.7C183.5 810.4 186.1 811.1 187.6 810.7C189.1 810.3 189.5 809.2 190.7 808.1C191.9 807.0 193.3 804.9 194.9 804.0C196.5 803.1 198.9 802.8 200.0 803.0C201.1 803.2 200.0 806.3 201.2 805.2C202.5 804.1 205.4 798.6 207.5 796.6C209.6 794.6 211.7 793.7 213.8 793.4C215.8 793.1 217.9 794.4 220.0 795.0C222.1 795.6 224.2 797.0 226.2 797.3C228.3 797.6 229.9 797.4 232.5 796.6C235.1 795.8 239.3 793.2 241.9 792.7C244.5 792.2 246.0 792.5 248.1 793.4C250.2 794.3 252.3 796.5 254.4 798.1C256.5 799.7 258.8 802.3 260.6 802.8C262.4 803.3 263.7 802.7 265.3 801.2C266.9 799.8 268.2 795.0 270.0 794.2C271.8 793.4 274.2 794.7 276.2 796.6C278.3 798.5 280.7 803.6 282.5 805.9C284.3 808.2 285.4 809.5 287.2 810.6C289.0 811.7 291.1 812.9 293.4 812.2C295.7 811.6 298.9 807.5 301.2 806.7C303.6 805.9 305.0 807.1 307.5 807.5C310.0 807.9 313.8 809.4 316.2 809.1C318.8 808.8 320.4 807.2 322.5 805.9C324.6 804.6 326.9 803.6 328.8 801.2C330.6 798.9 332.0 793.3 333.4 791.9C334.8 790.5 336.1 791.1 337.3 792.7C338.5 794.3 339.1 800.0 340.5 801.2C341.9 802.5 343.9 800.9 345.9 800.5C347.8 800.1 349.8 799.5 352.2 798.9C354.6 798.2 357.7 797.9 360.0 796.6C362.3 795.3 364.3 792.4 366.2 791.1C368.2 789.8 369.9 788.4 371.7 788.8C373.5 789.1 375.2 791.6 377.2 793.4C379.1 795.2 381.1 798.0 383.4 799.7C385.7 801.4 388.6 802.8 391.2 803.6C393.9 804.4 396.7 804.1 399.0 804.4C401.3 804.7 403.2 805.3 405.3 805.2C407.4 805.1 409.5 803.2 411.6 803.6C413.7 804.0 415.7 808.1 417.8 807.5C419.9 806.9 421.9 801.0 424.1 799.7C426.3 798.4 429.0 799.3 431.2 799.7C433.5 800.1 435.4 801.6 437.5 802.0C439.6 802.4 441.7 801.1 443.8 802.0C445.8 802.9 447.9 806.2 450.0 807.5C452.1 808.8 454.2 809.8 456.2 809.8C458.3 809.8 460.4 807.5 462.5 807.5C464.6 807.5 466.7 809.0 468.8 809.8C470.8 810.6 472.9 811.5 475.0 812.2C477.1 812.9 479.2 813.5 481.2 813.8C483.3 814.0 485.7 815.4 487.5 813.8C489.3 812.1 490.9 805.6 492.2 803.6C493.5 801.6 494.0 801.7 495.3 802.0C496.6 802.3 498.2 803.9 500.0 805.2C501.8 806.5 504.2 808.6 506.2 809.8C508.3 811.0 510.4 811.2 512.5 812.2C514.6 813.2 516.7 814.8 518.8 816.1C520.8 817.4 522.9 818.8 525.0 820.0C527.1 821.2 529.2 822.6 531.2 823.1C533.3 823.6 535.0 823.2 537.5 823.1C540.0 823.0 543.8 823.2 546.2 822.3C548.8 821.4 550.4 820.4 552.5 817.7C554.6 815.0 556.7 809.4 558.8 805.9C560.8 802.4 562.9 798.5 565.0 796.6C567.1 794.7 569.2 795.0 571.2 794.2C573.3 793.4 575.4 791.5 577.5 791.9C579.6 792.3 581.4 795.2 583.8 796.6C586.1 798.0 589.0 799.2 591.6 800.5C594.2 801.8 596.8 803.0 599.4 804.4C602.0 805.8 604.6 809.1 607.2 809.1C609.8 809.1 612.4 804.1 615.0 804.4C617.6 804.6 620.4 809.2 622.8 810.6C625.1 812.0 627.0 813.5 629.1 813.0C631.2 812.5 633.5 808.9 635.3 807.5C637.1 806.1 638.5 805.0 640.0 804.4C641.5 803.8 643.3 803.7 644.0 803.6" stroke="#74ae4c" stroke-width="2.7" fill="none" stroke-linejoin="round" stroke-linecap="round"/>
<path d="M86.6 774.7C87.8 773.7 91.5 768.9 94.1 768.8C96.6 768.6 99.4 771.9 101.9 773.9C104.4 775.9 106.6 780.1 108.9 780.9C111.2 781.7 113.6 779.8 115.9 778.6C118.2 777.4 120.7 773.8 123.0 773.9C125.3 774.0 128.2 778.8 130.0 779.4C131.8 780.0 132.5 777.5 133.9 777.5C135.3 777.5 137.6 779.1 138.6 779.4C139.6 779.7 139.1 779.4 140.0 779.2C140.9 779.0 142.7 779.8 144.1 778.1C145.5 776.4 146.7 772.6 148.3 768.8C149.9 765.0 151.9 758.2 153.5 755.4C155.1 752.5 156.6 751.5 158.1 751.7C159.6 751.9 161.2 755.3 162.3 756.4C163.4 757.5 163.5 756.6 164.8 758.5C166.1 760.4 168.3 764.5 170.0 767.8C171.7 771.1 173.6 775.2 175.2 778.1C176.8 781.0 178.1 783.4 179.3 784.9C180.5 786.4 181.2 787.2 182.4 786.9C183.6 786.6 185.2 785.4 186.6 783.3C188.0 781.1 189.3 776.9 190.7 774.0C192.1 771.1 193.5 767.7 194.9 765.7C196.3 763.7 197.2 761.7 199.0 762.1C200.8 762.5 203.7 766.0 205.9 768.4C208.1 770.8 210.1 773.9 212.2 776.2C214.3 778.6 216.6 781.6 218.4 782.5C220.2 783.4 221.3 781.8 223.1 781.7C224.9 781.6 227.1 782.0 229.4 781.7C231.8 781.5 234.1 780.8 237.2 780.2C240.3 779.6 245.4 778.1 248.1 778.1C250.8 778.1 251.8 780.3 253.6 780.2C255.4 780.1 257.4 779.2 259.1 777.5C260.8 775.8 262.2 772.8 263.8 770.0C265.3 767.2 266.8 763.1 268.4 760.6C270.0 758.1 271.3 756.5 273.1 755.2C274.9 753.9 277.6 753.7 279.4 752.8C281.2 751.9 282.8 750.2 284.1 749.7C285.4 749.2 286.7 750.0 287.2 750.0" stroke="#3e8494" stroke-width="2.7" fill="none" stroke-linejoin="round" stroke-linecap="round"/>
<path d="M287.2 735.6C288.0 737.2 290.3 742.5 291.9 745.0C293.5 747.5 294.8 749.3 296.6 750.5C298.4 751.7 301.0 751.6 302.8 752.0C304.6 752.4 306.1 753.2 307.5 753.1C308.9 753.0 310.5 750.8 311.4 751.2C312.3 751.7 312.0 753.3 313.1 755.9C314.2 758.5 316.2 763.8 317.8 766.9C319.4 770.0 320.9 772.4 322.5 774.7C324.1 777.0 325.4 778.6 327.2 780.9C329.0 783.2 331.3 785.9 333.4 788.8C335.5 791.6 337.9 795.9 339.7 798.1C341.5 800.3 342.6 801.9 344.4 802.0C346.2 802.1 348.5 799.8 350.6 798.9C352.7 798.0 355.1 797.5 356.9 796.6C358.7 795.7 360.0 795.2 361.6 793.4C363.2 791.6 364.7 788.5 366.2 785.6C367.8 782.7 369.3 779.4 370.9 776.2C372.5 773.1 374.0 769.2 375.6 766.9C377.2 764.6 378.7 765.1 380.3 762.2C381.9 759.3 383.4 753.6 385.0 749.7C386.6 745.8 388.1 742.1 389.7 738.8C391.3 735.4 392.7 731.4 394.4 729.4C396.1 727.4 398.2 726.7 399.8 726.6C401.4 726.5 402.1 727.9 403.8 728.6C405.4 729.3 407.7 730.1 410.0 730.9C412.3 731.7 416.0 732.2 417.8 733.3C419.6 734.3 419.8 734.7 420.9 737.2C421.9 739.7 423.1 743.9 424.1 748.1C425.2 752.3 426.0 758.0 427.2 762.2C428.4 766.4 429.8 771.8 431.2 773.1C432.7 774.4 434.1 771.8 435.9 770.0C437.7 768.2 440.1 764.3 442.2 762.2C444.3 760.1 446.4 760.1 448.4 757.5C450.3 754.9 452.5 748.0 453.9 746.6C455.3 745.2 455.8 746.8 457.0 748.9C458.2 751.0 459.5 755.6 460.9 759.1C462.3 762.6 464.0 766.9 465.6 770.0C467.2 773.1 468.5 776.2 470.3 777.8C472.1 779.4 474.5 779.3 476.6 779.4C478.7 779.5 480.7 779.2 482.8 778.6C484.9 778.0 487.0 776.5 489.1 775.5C491.2 774.5 493.2 773.6 495.3 772.3C497.4 771.0 499.5 769.0 501.6 767.7C503.7 766.4 505.5 765.5 507.8 764.5C510.1 763.5 513.8 761.3 515.6 761.4C517.4 761.5 517.8 763.2 518.8 765.3C519.7 767.4 520.3 771.9 521.1 773.9C521.9 775.9 522.6 777.4 523.4 777.0C524.2 776.6 524.9 774.9 525.8 771.6C526.7 768.4 527.7 761.3 528.9 757.5C530.1 753.7 531.1 750.7 532.8 748.9C534.5 747.1 537.1 745.8 539.1 746.6C541.1 747.4 542.7 751.1 544.7 753.6C546.7 756.1 549.1 759.3 550.9 761.4C552.7 763.5 553.8 764.8 555.6 766.1C557.4 767.4 559.8 769.3 561.9 769.2C564.0 769.1 565.5 767.0 568.1 765.3C570.7 763.6 574.6 759.8 577.5 759.1C580.4 758.5 582.7 760.0 585.3 761.4C587.9 762.8 591.0 766.9 593.1 767.7C595.2 768.5 596.4 765.6 597.8 766.1C599.2 766.6 600.7 768.1 601.7 770.8C602.8 773.5 602.9 780.0 604.1 782.5C605.3 785.0 607.2 784.7 608.8 785.6C610.3 786.5 611.8 789.0 613.4 788.0C615.0 787.0 616.3 780.7 618.1 779.4C619.9 778.1 622.0 780.0 624.4 780.2C626.8 780.5 630.1 781.2 632.2 780.9C634.3 780.6 635.3 779.8 636.9 778.6C638.5 777.4 640.4 773.1 641.6 773.9C642.8 774.7 643.0 779.5 644.0 783.3C645.0 787.1 646.3 795.1 647.4 796.7C648.5 798.3 649.8 794.2 650.8 792.7C651.8 791.2 652.4 788.5 653.5 788.0C654.6 787.5 655.9 789.1 657.5 790.0C659.1 790.9 661.1 792.0 662.9 793.4C664.7 794.8 666.7 797.8 668.3 798.1C669.9 798.4 671.0 795.4 672.3 795.4C673.6 795.4 674.9 799.7 676.3 798.1C677.6 796.5 679.0 789.1 680.4 786.0C681.8 782.9 683.2 781.7 684.4 779.2C685.6 776.7 686.8 773.7 687.8 771.1C688.8 768.5 689.6 763.9 690.5 763.7C691.4 763.5 692.3 765.9 693.2 769.8C694.1 773.7 694.9 782.6 695.9 787.3C696.9 792.0 698.0 796.0 699.2 798.1C700.4 800.2 701.7 800.9 703.3 800.1C704.9 799.3 706.8 796.0 708.6 793.4C710.4 790.8 712.4 786.4 714.0 784.6C715.6 782.8 716.6 783.6 718.1 782.6C719.6 781.6 722.0 779.2 722.8 778.5" stroke="#d65f9f" stroke-width="2.7" fill="none" stroke-linejoin="round" stroke-linecap="round"/>
</svg>
</body></html>
